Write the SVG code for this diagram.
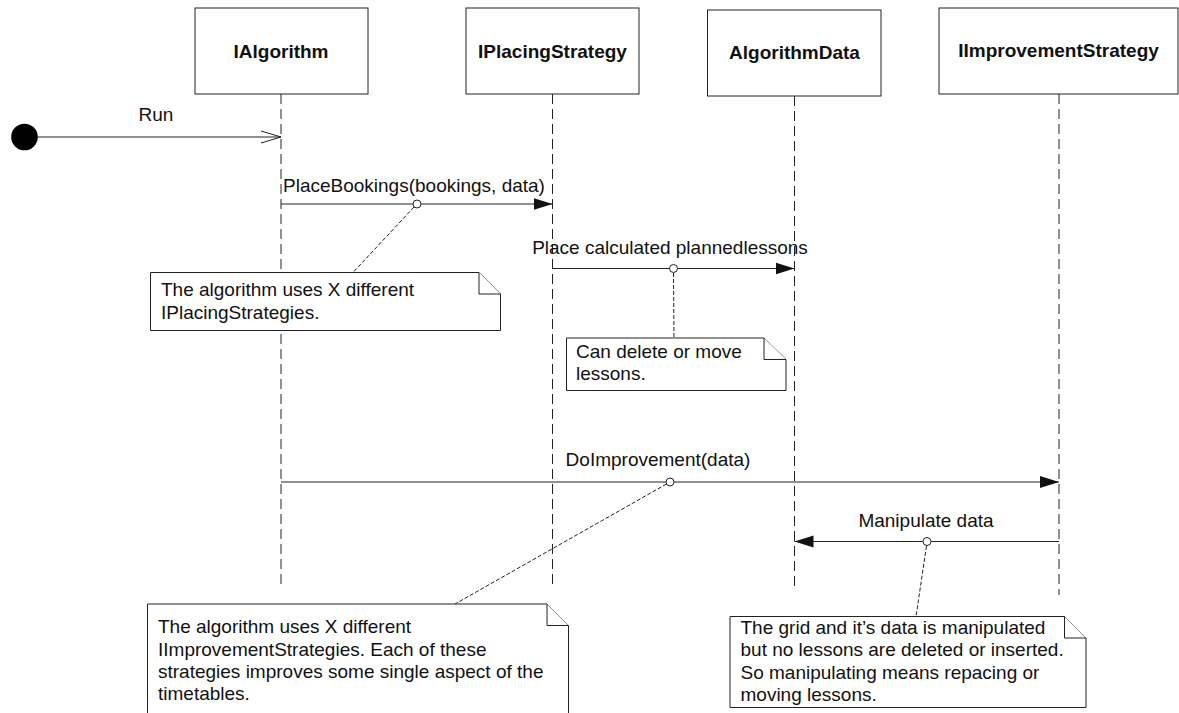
<svg xmlns="http://www.w3.org/2000/svg" width="1179" height="713" viewBox="0 0 1179 713">
  <style>
    .box { fill: #fff; stroke: #222; stroke-width: 1; }
    .title { font-family: "Liberation Sans", Arial, sans-serif; font-size: 19px; font-weight: bold; fill: #111; text-anchor: middle; }
    .txt { font-family: "Liberation Sans", Arial, sans-serif; font-size: 19px; fill: #111; }
    .mid { text-anchor: middle; }
    .life { stroke: #222; stroke-width: 1; stroke-dasharray: 10,5; fill: none; }
    .msg { stroke: #222; stroke-width: 1; fill: none; }
    .anchor { stroke: #222; stroke-width: 1; stroke-dasharray: 4,2; fill: none; }
    .dot { fill: #fff; stroke: #222; stroke-width: 1; }
    .note { fill: #fff; stroke: #222; stroke-width: 1; }
  </style>
  <defs>
    <marker id="filled" markerWidth="20" markerHeight="14" refX="19" refY="7" orient="auto" markerUnits="userSpaceOnUse">
      <path d="M0,1 L19,7 L0,13 Z" fill="#111"/>
    </marker>
    <marker id="open" markerWidth="22" markerHeight="16" refX="20" refY="7" orient="auto" markerUnits="userSpaceOnUse">
      <path d="M0,1 L20,7 L0,13" fill="none" stroke="#222" stroke-width="1"/>
    </marker>
  </defs>

  <rect width="1179" height="713" fill="#fff"/>

  <!-- lifelines -->
  <g id="lifelines">
    <line class="life" x1="281" y1="94" x2="281" y2="588"/>
    <line class="life" x1="552.5" y1="94" x2="552.5" y2="588"/>
    <line class="life" x1="794.5" y1="96" x2="794.5" y2="588"/>
    <line class="life" x1="1059" y1="94" x2="1059" y2="595"/>
  </g>

  <!-- participants -->
  <g id="IAlgorithm">
    <rect class="box" x="195" y="8" width="173" height="86"/>
    <text class="title" x="281" y="57.5">IAlgorithm</text>
  </g>
  <g id="IPlacingStrategy">
    <rect class="box" x="466" y="8" width="173" height="86"/>
    <text class="title" x="552.5" y="57.5">IPlacingStrategy</text>
  </g>
  <g id="AlgorithmData">
    <rect class="box" x="707.5" y="10" width="173.5" height="86"/>
    <text class="title" x="794.5" y="59">AlgorithmData</text>
  </g>
  <g id="IImprovementStrategy">
    <rect class="box" x="939" y="8" width="239" height="86"/>
    <text class="title" x="1058.5" y="57">IImprovementStrategy</text>
  </g>

  <!-- start point -->
  <g id="start">
    <circle cx="24.5" cy="137" r="13.3" fill="#000"/>
  </g>

  <!-- messages and note anchors -->
  <g id="connectors">
    <line class="msg" x1="37" y1="137" x2="281" y2="137" marker-end="url(#open)"/>
    <text class="txt mid" x="156" y="120.5">Run</text>

    <line class="msg" x1="281" y1="204" x2="552.5" y2="204" marker-end="url(#filled)"/>
    <text class="txt" x="283" y="192">PlaceBookings(bookings, data)</text>

    <line class="msg" x1="552.5" y1="268.5" x2="794.5" y2="268.5" marker-end="url(#filled)"/>
    <text class="txt mid" x="670" y="253.5">Place calculated plannedlessons</text>

    <line class="msg" x1="281" y1="482" x2="1059" y2="482" marker-end="url(#filled)"/>
    <text class="txt mid" x="658" y="466">DoImprovement(data)</text>

    <line class="msg" x1="1059" y1="541.5" x2="794.5" y2="541.5" marker-end="url(#filled)"/>
    <text class="txt mid" x="926" y="527">Manipulate data</text>

    <line class="anchor" x1="414" y1="207" x2="353" y2="272.5"/>
    <line class="anchor" x1="673.5" y1="273" x2="674" y2="338"/>
    <line class="anchor" x1="666.5" y1="484" x2="455" y2="604"/>
    <line class="anchor" x1="926.5" y1="546" x2="916" y2="616.5"/>

    <circle class="dot" cx="417" cy="204" r="4"/>
    <circle class="dot" cx="673.5" cy="268.5" r="4"/>
    <circle class="dot" cx="670" cy="482" r="4"/>
    <circle class="dot" cx="927" cy="541.5" r="4"/>
  </g>

  <!-- notes -->
  <g id="note-placing">
    <path class="note" d="M150.5,272.5 H479 L500.5,294 V330.5 H150.5 Z"/>
    <path class="note" d="M479,272.5 V294 H500.5" fill="none"/>
    <text class="txt" x="161" y="296">The algorithm uses X different</text>
    <text class="txt" x="161" y="318.5">IPlacingStrategies.</text>
  </g>

  <g id="note-delete">
    <path class="note" d="M566.5,338 H764 L786,359.5 V390.5 H566.5 Z"/>
    <path class="note" d="M764,338 V359.5 H786" fill="none"/>
    <text class="txt" x="576" y="357.5">Can delete or move</text>
    <text class="txt" x="576" y="380">lessons.</text>
  </g>

  <g id="note-improvement">
    <path class="note" d="M147.5,604 H547 L568.5,625.5 V720 H147.5 Z"/>
    <path class="note" d="M547,604 V625.5 H568.5" fill="none"/>
    <text class="txt" x="158" y="633">The algorithm uses X different</text>
    <text class="txt" x="158" y="655.5">IImprovementStrategies. Each of these</text>
    <text class="txt" x="158" y="677.5">strategies improves some single aspect of the</text>
    <text class="txt" x="158" y="700">timetables.</text>
  </g>

  <g id="note-manipulate">
    <path class="note" d="M730,616.5 H1064.5 L1086,638 V707.5 H730 Z"/>
    <path class="note" d="M1064.5,616.5 V638 H1086" fill="none"/>
    <text class="txt" x="740.5" y="633.5">The grid and it’s data is manipulated</text>
    <text class="txt" x="740.5" y="656">but no lessons are deleted or inserted.</text>
    <text class="txt" x="740.5" y="678.5">So manipulating means repacing or</text>
    <text class="txt" x="740.5" y="701">moving lessons.</text>
  </g>
</svg>
